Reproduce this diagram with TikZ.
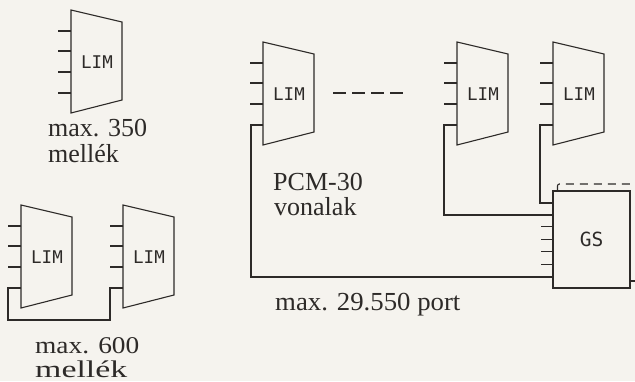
\documentclass[tikz,border=0pt]{standalone}
\usepackage{fontspec}
\setmainfont{Liberation Serif}
\newfontfamily\limfont{DejaVu Sans Mono}
\usepackage{graphicx}
\definecolor{paper}{RGB}{245,243,238}
\definecolor{ink}{RGB}{45,42,40}
\tikzset{
  wire/.style={draw=ink, line width=1.1pt},
  limlabel/.style={font=\limfont\fontsize{17.5}{18}\selectfont, text=ink, inner sep=0pt},
  gsbox/.style={wire, minimum width=77pt, minimum height=97pt, inner sep=0pt,
    font=\limfont\fontsize{19.5}{20}\selectfont, text=ink},
  caption/.style={font=\fontsize{26}{28}\selectfont, text=ink, inner sep=0pt, anchor=base west},
  smallcaption/.style={caption, font=\fontsize{24}{26}\selectfont},
  gapline/.style={wire, dash pattern=on 13pt off 6pt},
  backline/.style={wire, dash pattern=on 8pt off 6pt, rounded corners=2pt},
}
\newcommand\limbox[3]{%
  \draw[wire] (#2,#3) -- ++(51,12) -- ++(0,78) -- ++(-51,13) -- cycle;
  \foreach \d in {21,41,62} \draw[wire] (#2,#3) ++(0,\d) -- ++(-13,0);
  \path (#2,#3) ++(26,52) node[limlabel] (#1) {LIM};
  \path (#2,#3) ++(0,83) coordinate (#1-p) ++(-13,0) coordinate (#1-s);
}
\begin{document}
\begin{tikzpicture}[x=1pt,y=-1pt]
  \fill[paper] (0,0) rectangle (635,381);
  \useasboundingbox (0,0) rectangle (635,381);

  % top-left single LIM
  \limbox{lima}{71}{10}
  \draw[wire] (lima-p) -- (lima-s);
  \node[caption] (t1a) at (48,136) {max. 350};
  \node[caption] (t1b) at (48,162) {mellék};

  % bottom-left pair of LIMs
  \limbox{limb1}{21}{205}
  \limbox{limb2}{123}{205}
  \coordinate (c0) at (8,320);
  \draw[wire] (limb1-p) -| (c0) -| (limb2-s) -- (limb2-p);
  \node[smallcaption] (t2a) at (35,353) {\scalebox{1.14}[1]{max. 600}};
  \node[smallcaption] (t2b) at (35,377) {\scalebox{1.41}[1]{mellék}};

  % main system
  \limbox{limm}{263}{42}
  \limbox{limn}{457}{42}
  \limbox{limo}{553}{42}
  \coordinate (d1) at (333,93);
  \coordinate (d2) at (405,93);
  \draw[gapline] (d1) -- (d2);

  \node[gsbox] (gs) at (591.5,239.5) {GS};
  \foreach \d in {36,49,61,74} \draw[wire] (gs.north west) ++(0,\d) -- ++(-11,0);

  \coordinate (c1) at (251,277);
  \draw[wire] (limm-p) -| (c1) -- (c1 -| gs.west);
  \coordinate (c2) at (444,215);
  \draw[wire] (limn-p) -| (c2) -- (c2 -| gs.west);
  \coordinate (c3) at (540,203);
  \draw[wire] (limo-p) -| (c3) -- (c3 -| gs.west);

  \coordinate (k2) at (645,184);
  \draw[backline] ([xshift=5pt]gs.north west) |- (k2);
  \coordinate (e1) at (645,281);
  \draw[wire] (e1 -| gs.east) -- (e1);

  \node[caption] (t3a) at (273,190) {PCM-30};
  \node[caption] (t3b) at (274,215) {vonalak};
  \node[caption] (t4) at (275,310) {\scalebox{1.03}[1]{max. 29.550 port}};
\end{tikzpicture}
\end{document}
